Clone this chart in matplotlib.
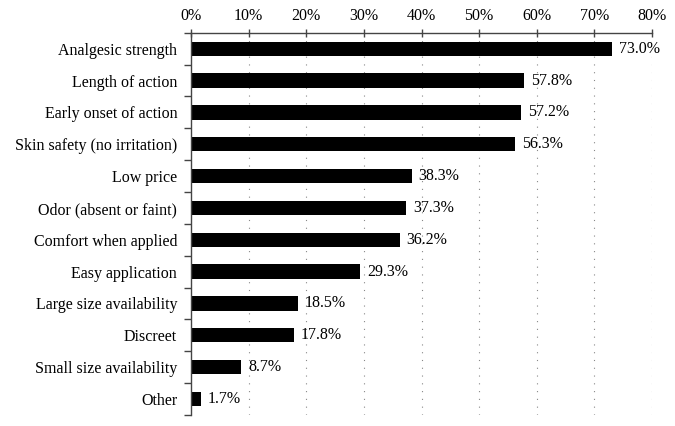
import matplotlib
matplotlib.use('Agg')
import matplotlib.pyplot as plt
import numpy as np

# categories and percentages, top to bottom
categories = ['Analgesic strength', 'Length of action', 'Early onset of action',
              'Skin safety (no irritation)', 'Low price', 'Odor (absent or faint)',
              'Comfort when applied', 'Easy application', 'Large size availability',
              'Discreet', 'Small size availability', 'Other']
values = [73.0, 57.8, 57.2, 56.3, 38.3, 37.3, 36.2, 29.3, 18.5, 17.8, 8.7, 1.7]
x_ticks = [0, 10, 20, 30, 40, 50, 60, 70, 80]

plt.rcParams['font.family'] = ['Liberation Serif', 'DejaVu Serif']

fig = plt.figure(figsize=(6.75, 4.26), dpi=100)
ax = fig.add_axes([0.283, 0.026, 0.683, 0.897])

y = np.arange(len(categories))
ax.barh(y, values, height=0.45, color='black')

# value labels
for yi, v in zip(y, values):
    ax.text(v + 1.2, yi, '%.1f%%' % v, va='center', ha='left', fontsize=11.5)

ax.set_xlim(0, 80)
ax.set_ylim(len(categories) - 0.5, -0.5)

# x axis on top
ax.xaxis.tick_top()
ax.set_xticks(x_ticks)
ax.set_xticklabels(['%d%%' % t for t in x_ticks], fontsize=11.5)
ax.tick_params(axis='x', direction='inout', length=6, width=1, color='#444444', pad=3)

# dotted vertical grid
for t in x_ticks[1:]:
    ax.axvline(t, color='#888888', linestyle=(0, (1, 6)), linewidth=0.8, zorder=0)

# y tick labels centred on bars, ticks at category boundaries
ax.set_yticks(y)
ax.set_yticklabels(categories, fontsize=11.5)
ax.tick_params(axis='y', which='major', length=0, pad=10)
ax.set_yticks(np.arange(len(categories) + 1) - 0.5, minor=True)
ax.tick_params(axis='y', which='minor', direction='out', length=5, width=1, color='#444444')

for s in ['right', 'bottom']:
    ax.spines[s].set_visible(False)
for s in ['top', 'left']:
    ax.spines[s].set_color('#444444')
    ax.spines[s].set_linewidth(1)

fig.savefig('out.png', dpi=100)
